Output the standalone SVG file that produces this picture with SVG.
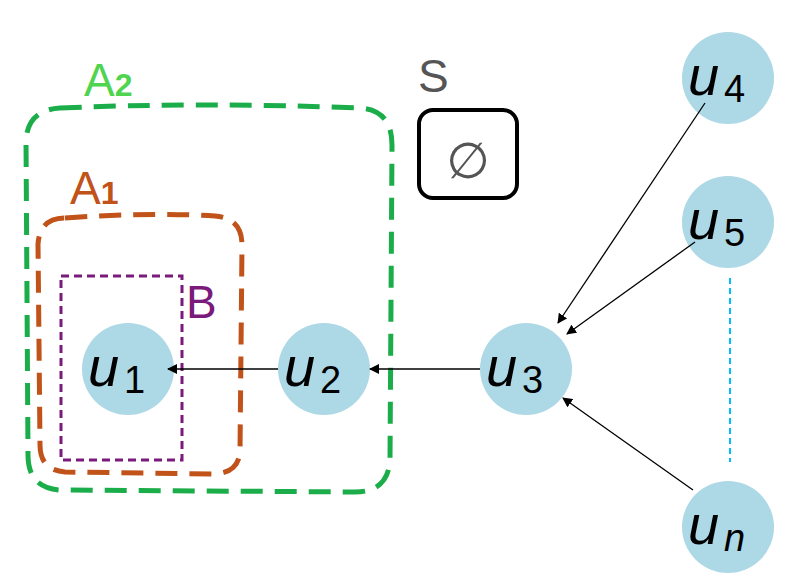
<svg xmlns="http://www.w3.org/2000/svg" width="792" height="582" viewBox="0 0 792 582">
<style>
.n{fill:#add8e6}
.t{font-family:"Liberation Sans",Arial,sans-serif;font-style:italic;font-size:56px;fill:#000}
.s{font-family:"Liberation Sans",Arial,sans-serif;font-size:38px;fill:#000}
.c{stroke:#000;stroke-width:1.3;fill:none;marker-end:url(#ah)}
.lb{font-family:"Liberation Sans",Arial,sans-serif;font-size:46px}
</style>
<defs><marker id="ah" markerWidth="10" markerHeight="10" refX="9" refY="5" orient="auto" markerUnits="userSpaceOnUse"><path d="M0,0 L10,5 L0,10 Z" fill="#000"/></marker></defs>
<rect width="792" height="582" fill="#fff"/>
<g id="A2"><path d="M60,108 Q200,102 360,108 Q392,110 392,145 L390,460 Q388,492 355,492 L60,490 Q28,488 28,455 L26,140 Q28,110 60,108 Z" fill="none" stroke="#1aad4a" stroke-width="5" stroke-dasharray="22,12"/>
<text class="lb" x="84" y="96" fill="#4fd44f">A<tspan font-size="32" font-weight="bold">2</tspan></text></g>
<g id="A1"><path d="M65,218 Q150,212 215,216 Q242,218 242,245 L240,452 Q238,474 212,474 L65,472 Q40,470 40,445 L38,244 Q40,218 65,218 Z" fill="none" stroke="#c0521a" stroke-width="5" stroke-dasharray="22,12"/>
<text class="lb" x="70" y="204" fill="#c0521a">A<tspan font-size="32" font-weight="bold">1</tspan></text></g>
<g id="B"><rect x="61" y="276" width="121" height="184" fill="none" stroke="#7a1a7a" stroke-width="3" stroke-dasharray="8,5"/>
<text class="lb" x="186" y="318" fill="#7a1a7a">B</text></g>
<g id="S"><rect x="419" y="110" width="98" height="88" rx="14" fill="none" stroke="#000" stroke-width="4"/>
<text class="lb" x="418" y="92" fill="#555">S</text>
<text x="468" y="178" text-anchor="middle" font-family="DejaVu Sans,sans-serif" font-size="50" fill="#555">∅</text></g>
<g id="u1"><circle class="n" cx="128" cy="369" r="46"/><text class="t" x="88" y="386">u</text><text class="s" x="124" y="393">1</text></g>
<g id="u2"><circle class="n" cx="324" cy="369" r="46"/><text class="t" x="284" y="386">u</text><text class="s" x="320" y="393">2</text></g>
<g id="u3"><circle class="n" cx="526" cy="369" r="46"/><text class="t" x="486" y="386">u</text><text class="s" x="522" y="393">3</text></g>
<g id="u4"><circle class="n" cx="728" cy="78" r="46"/><text class="t" x="688" y="95">u</text><text class="s" x="724" y="102">4</text></g>
<g id="u5"><circle class="n" cx="728" cy="222" r="46"/><text class="t" x="688" y="239">u</text><text class="s" x="724" y="246">5</text></g>
<g id="un"><circle class="n" cx="728" cy="527" r="46"/><text class="t" x="688" y="544">u</text><text class="s" x="724" y="551" font-style="italic">n</text></g>
<g id="connectors">
<line class="c" x1="278" y1="369" x2="168" y2="369"/>
<line class="c" x1="480" y1="369" x2="370" y2="369"/>
<line class="c" x1="705" y1="103" x2="558" y2="323"/>
<line class="c" x1="695" y1="242" x2="567" y2="334"/>
<line class="c" x1="693" y1="490" x2="563" y2="398"/>
<line x1="730" y1="278" x2="730" y2="462" stroke="#00bfff" stroke-width="2" stroke-dasharray="6,4"/>
</g>
</svg>
